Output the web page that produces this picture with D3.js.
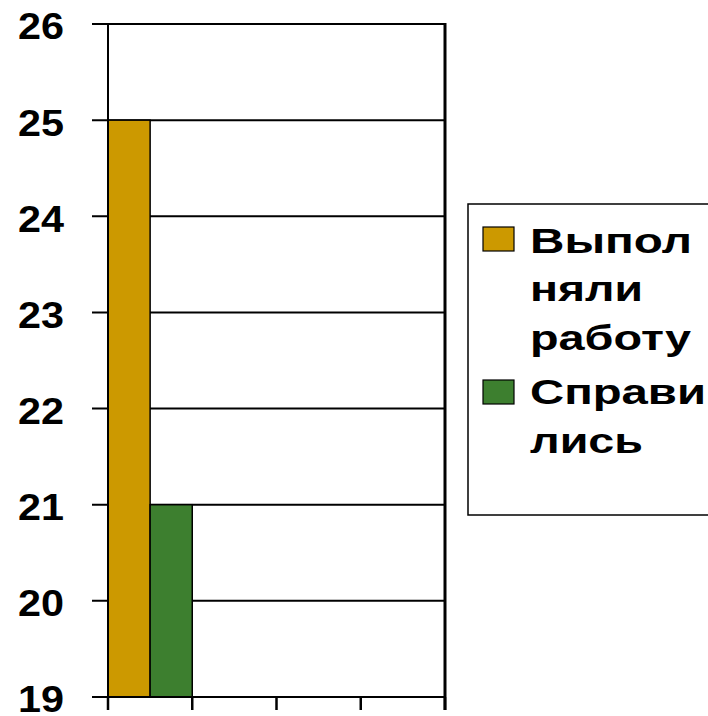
<!DOCTYPE html>
<html><head><meta charset="utf-8">
<script src="https://cdn.jsdelivr.net/npm/d3@7"></script>
<style>body{margin:0;background:#fff}svg{display:block}</style>
</head><body>
<svg id="c" width="708" height="716"></svg>
<script>
const categories = ["1", "2", "3", "4"];
const seriesNames = ["Выполняли работу", "Справились"];
const doneValues = [25, null, null, null];
const passedValues = [21, null, null, null];
const yTicks = [19, 20, 21, 22, 23, 24, 25, 26];
const legendLines = [["Выпол", "няли", "работу"], ["Справи", "лись"]];
const colors = ["#CC9900", "#3D7F2F"];

const svg = d3.select("#c");
const L = 108, R = 445, T = 24, B = 697;
const x = d3.scaleBand().domain(categories).range([L, R]).padding(0);
const xs = d3.scaleBand().domain(seriesNames).range([0, x.bandwidth()]).padding(0);
const y = d3.scaleLinear().domain([19, 26]).range([B, T]);
const fontFam = "'Liberation Sans', Arial, sans-serif";

// gridlines
svg.append("g").selectAll("line").data(yTicks).join("line")
  .attr("x1", 92).attr("x2", R).attr("y1", d => y(d)).attr("y2", d => y(d))
  .attr("stroke", "#000").attr("stroke-width", 2);

// y labels
svg.append("g").selectAll("text").data(yTicks).join("text")
  .attr("x", 64).attr("y", d => y(d)).attr("dy", "0.43em")
  .attr("text-anchor", "end").attr("font-family", fontFam)
  .attr("font-weight", "bold").attr("font-size", 36)
  .attr("textLength", 46).attr("lengthAdjust", "spacingAndGlyphs")
  .text(d => d);

// bars
const series = [doneValues, passedValues];
series.forEach((vals, si) => {
  svg.append("g").selectAll("rect").data(categories.map((c, i) => ({c, v: vals[i]})).filter(d => d.v != null))
    .join("rect")
    .attr("x", d => x(d.c) + xs(seriesNames[si]))
    .attr("width", xs.bandwidth())
    .attr("y", d => y(d.v))
    .attr("height", d => y(19) - y(d.v))
    .attr("fill", colors[si]).attr("stroke", "#000").attr("stroke-width", 1.5);
});

// left axis line
svg.append("line").attr("x1", L).attr("x2", L).attr("y1", T).attr("y2", 710)
  .attr("stroke", "#000").attr("stroke-width", 2);
// right border
svg.append("line").attr("x1", R).attr("x2", R).attr("y1", T - 1).attr("y2", 710)
  .attr("stroke", "#000").attr("stroke-width", 3);
// bottom axis
svg.append("line").attr("x1", 92).attr("x2", R).attr("y1", B).attr("y2", B)
  .attr("stroke", "#000").attr("stroke-width", 2);
// x ticks
const xTickPos = categories.map(c => x(c)).concat([R]);
svg.append("g").selectAll("line").data(xTickPos).join("line")
  .attr("x1", d => d).attr("x2", d => d).attr("y1", B).attr("y2", 710)
  .attr("stroke", "#000").attr("stroke-width", 2.5);

// legend
svg.append("rect").attr("x", 468).attr("y", 204).attr("width", 260).attr("height", 311)
  .attr("fill", "#fff").attr("stroke", "#000").attr("stroke-width", 1.5);
const swatchY = [227, 380];
const baselines = [[253, 301, 350], [404, 453]];
const widths = [[162, 113, 161], [176, 113]];
legendLines.forEach((lines, si) => {
  svg.append("rect").attr("x", 483).attr("y", swatchY[si]).attr("width", 31).attr("height", 24)
    .attr("fill", colors[si]).attr("stroke", "#000").attr("stroke-width", 1.2);
  lines.forEach((t, li) => {
    svg.append("text").attr("x", 530).attr("y", baselines[si][li])
      .attr("font-family", fontFam).attr("font-weight", "bold").attr("font-size", 35)
      .attr("textLength", widths[si][li]).attr("lengthAdjust", "spacingAndGlyphs")
      .text(t);
  });
});
</script>
</body></html>
